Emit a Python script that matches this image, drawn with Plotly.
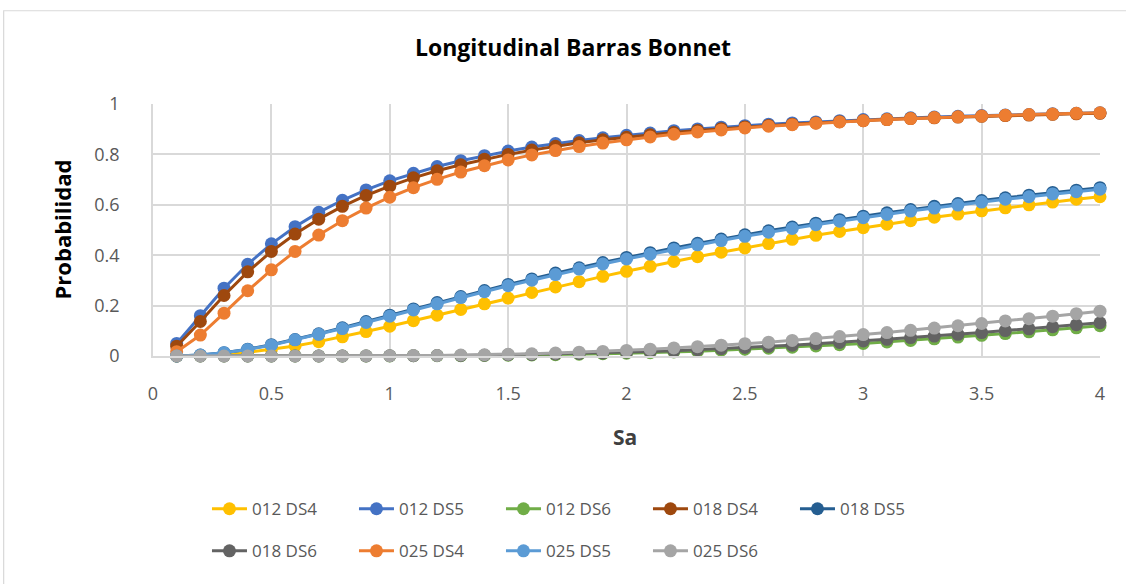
import plotly.graph_objects as go

sa = [0.1, 0.2, 0.3, 0.4, 0.5, 0.6, 0.7, 0.8, 0.9, 1.0,
      1.1, 1.2, 1.3, 1.4, 1.5, 1.6, 1.7, 1.8, 1.9, 2.0,
      2.1, 2.2, 2.3, 2.4, 2.5, 2.6, 2.7, 2.8, 2.9, 3.0,
      3.1, 3.2, 3.3, 3.4, 3.5, 3.6, 3.7, 3.8, 3.9, 4.0]

s012_ds4 = [0, 0.002, 0.006, 0.014, 0.026, 0.040, 0.057, 0.076, 0.097, 0.118, 0.140, 0.162, 0.185, 0.207, 0.230, 0.252, 0.274, 0.295, 0.316, 0.336,
            0.356, 0.375, 0.394, 0.412, 0.429, 0.446, 0.463, 0.479, 0.494, 0.509, 0.523, 0.537, 0.551, 0.563, 0.576, 0.588, 0.600, 0.611, 0.622, 0.632]
s012_ds5 = [0.050, 0.160, 0.269, 0.364, 0.445, 0.513, 0.570, 0.618, 0.659, 0.695, 0.725, 0.752, 0.775, 0.795, 0.813, 0.829, 0.843, 0.855, 0.866, 0.876,
            0.885, 0.894, 0.901, 0.908, 0.914, 0.920, 0.925, 0.929, 0.934, 0.938, 0.941, 0.945, 0.948, 0.951, 0.954, 0.956, 0.958, 0.961, 0.963, 0.965]
s012_ds6 = [0, 0, 0, 0, 0, 0, 0, 0, 0, 0, 0.001, 0.001, 0.001, 0.002, 0.003, 0.004, 0.005, 0.007, 0.009, 0.011,
            0.013, 0.016, 0.019, 0.023, 0.027, 0.031, 0.035, 0.040, 0.045, 0.050, 0.056, 0.062, 0.068, 0.075, 0.082, 0.089, 0.096, 0.104, 0.112, 0.120]
s018_ds4 = [0.039, 0.137, 0.240, 0.334, 0.415, 0.484, 0.543, 0.594, 0.637, 0.674, 0.707, 0.735, 0.759, 0.781, 0.800, 0.817, 0.832, 0.846, 0.858, 0.868,
            0.878, 0.887, 0.895, 0.902, 0.909, 0.915, 0.920, 0.925, 0.930, 0.934, 0.938, 0.942, 0.945, 0.948, 0.951, 0.954, 0.956, 0.959, 0.961, 0.963]
s018_ds5 = [0, 0.004, 0.013, 0.027, 0.045, 0.065, 0.088, 0.112, 0.137, 0.162, 0.187, 0.212, 0.236, 0.260, 0.284, 0.306, 0.329, 0.350, 0.371, 0.391,
            0.410, 0.429, 0.447, 0.464, 0.481, 0.497, 0.512, 0.527, 0.541, 0.555, 0.568, 0.581, 0.594, 0.605, 0.617, 0.628, 0.638, 0.649, 0.658, 0.668]
s018_ds6 = [0, 0, 0, 0, 0, 0, 0, 0, 0, 0.001, 0.001, 0.002, 0.002, 0.003, 0.005, 0.006, 0.008, 0.010, 0.012, 0.015,
            0.018, 0.021, 0.025, 0.029, 0.034, 0.038, 0.043, 0.049, 0.054, 0.060, 0.066, 0.073, 0.079, 0.086, 0.093, 0.101, 0.108, 0.116, 0.124, 0.132]
s025_ds4 = [0.017, 0.083, 0.170, 0.259, 0.342, 0.415, 0.480, 0.537, 0.587, 0.630, 0.668, 0.701, 0.730, 0.755, 0.778, 0.798, 0.815, 0.831, 0.845, 0.858,
            0.869, 0.880, 0.889, 0.897, 0.905, 0.912, 0.918, 0.924, 0.929, 0.934, 0.938, 0.942, 0.946, 0.949, 0.952, 0.955, 0.958, 0.960, 0.963, 0.965]
s025_ds5 = [0, 0.004, 0.013, 0.026, 0.043, 0.064, 0.086, 0.109, 0.133, 0.158, 0.183, 0.207, 0.232, 0.255, 0.279, 0.301, 0.323, 0.345, 0.365, 0.385,
            0.404, 0.423, 0.441, 0.458, 0.475, 0.491, 0.506, 0.521, 0.535, 0.549, 0.562, 0.575, 0.587, 0.599, 0.611, 0.622, 0.632, 0.643, 0.652, 0.662]
s025_ds6 = [0, 0, 0, 0, 0, 0, 0, 0, 0.001, 0.001, 0.002, 0.002, 0.004, 0.005, 0.007, 0.009, 0.012, 0.015, 0.018, 0.022,
            0.027, 0.032, 0.037, 0.043, 0.049, 0.055, 0.062, 0.069, 0.077, 0.085, 0.093, 0.102, 0.111, 0.120, 0.129, 0.139, 0.148, 0.158, 0.168, 0.178]

series_names = ["012 DS4", "012 DS5", "012 DS6", "018 DS4", "018 DS5", "018 DS6", "025 DS4", "025 DS5", "025 DS6"]
series_values = [s012_ds4, s012_ds5, s012_ds6, s018_ds4, s018_ds5, s018_ds6, s025_ds4, s025_ds5, s025_ds6]
series_colors = ["#FFC000", "#4472C4", "#70AD47", "#9E480E", "#255E91", "#636363", "#ED7D31", "#5B9BD5", "#A5A5A5"]

FONT = "Open Sans"
fig = go.Figure()
for i, (name, vals, col) in enumerate(zip(series_names, series_values, series_colors)):
    fig.add_trace(go.Scatter(x=sa, y=vals, name=name, mode="lines+markers",
                             line=dict(color=col, width=3),
                             marker=dict(color=col, size=13),
                             cliponaxis=False,
                             legend="legend" if i < 5 else "legend2"))

L, R, T, B = 153, 26, 104, 228
legend_common = dict(orientation="h", xanchor="left", yanchor="middle",
                     entrywidth=97, entrywidthmode="pixels", itemwidth=35,
                     font=dict(size=17, color="#595959"), bgcolor="rgba(0,0,0,0)")
fig.update_layout(
    width=1126, height=584, autosize=False,
    margin=dict(l=L, r=R, t=T, b=B),
    paper_bgcolor="white", plot_bgcolor="white",
    font=dict(family=FONT, color="#595959"),
    showlegend=True,
    xaxis=dict(range=[0, 4], tick0=0, dtick=0.5, showgrid=True, gridcolor="#d9d9d9", gridwidth=1.5,
               zeroline=False, showline=True, linecolor="#d9d9d9", linewidth=1.5,
               tickfont=dict(size=18, color="#595959"), ticks="", ticklabelstandoff=21),
    yaxis=dict(range=[0, 1], tick0=0, dtick=0.2, showgrid=True, gridcolor="#d9d9d9", gridwidth=1.5,
               zeroline=False, showline=True, linecolor="#d9d9d9", linewidth=1.5,
               tickfont=dict(size=18, color="#595959"), ticks="", ticklabelstandoff=28),
    legend=dict(x=0.057, y=-0.608, **legend_common),
    legend2=dict(x=0.057, y=-0.775, **legend_common),
    annotations=[
        dict(text="<b>Longitudinal Barras Bonnet</b>", x=0.443, y=1.226, xref="paper", yref="paper",
             xanchor="center", yanchor="middle",
             showarrow=False, font=dict(size=23, color="black", family=FONT)),
        dict(text="<b>Sa</b>", x=0.498, y=-0.323, xref="paper", yref="paper",
             xanchor="center", yanchor="middle",
             showarrow=False, font=dict(size=21, color="#404040", family=FONT)),
        dict(text="<b>Probabilidad</b>", x=-0.0964, y=0.501, xref="paper", yref="paper", textangle=-90,
             xanchor="center", yanchor="middle",
             showarrow=False, font=dict(size=22, color="black", family=FONT)),
    ],
    shapes=[dict(type="rect", xref="paper", yref="paper", x0=-0.1577, x1=1.04, y0=-0.95, y1=1.370,
                 line=dict(color="#d9d9d9", width=1.2), fillcolor="rgba(0,0,0,0)", layer="below")],
)
fig.write_html("out.html", config={"displayModeBar": False},
               post_script="document.body.style.margin='0';document.body.style.padding='0';")
